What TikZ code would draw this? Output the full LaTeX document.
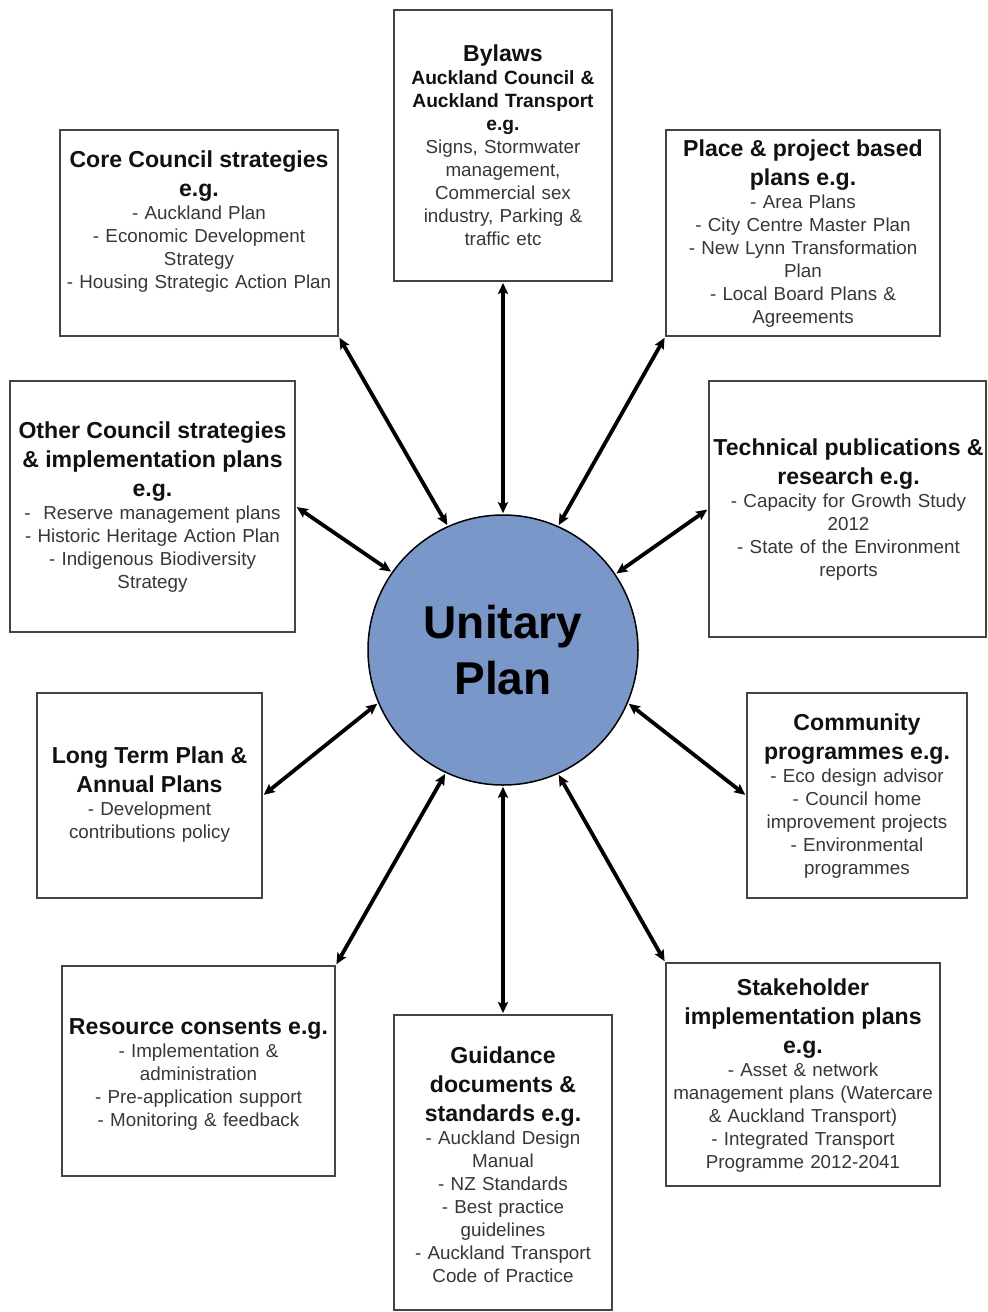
\documentclass[tikz,border=0pt]{standalone}
\usepackage{fontspec}
\setmainfont{Liberation Sans}
\usetikzlibrary{arrows.meta}

\definecolor{headc}{RGB}{17,17,17}
\definecolor{bodyc}{RGB}{55,55,55}
\definecolor{framec}{RGB}{68,68,68}
\definecolor{planfill}{RGB}{122,151,202}

% type sizes: main heading, sub heading, body
\newcommand\hdA{\fontsize{23.1}{29}\selectfont\bfseries\color{headc}}
\newcommand\hdB{\fontsize{19.2}{23}\selectfont\bfseries\color{headc}}
\newcommand\bd{\fontsize{18.8}{23}\selectfont\mdseries\color{bodyc}}

\tikzset{
  box/.style={draw=framec, line width=1.8pt, fill=white, rectangle, inner sep=0pt},
  txt/.style={inner sep=0pt, align=center, text width=320pt,
              font=\fontsize{18.8}{23}\selectfont},
  link/.style={line width=3.8pt, black,
               {Stealth[length=11pt,width=10pt,inset=2pt]}-{Stealth[length=11pt,width=10pt,inset=2pt]},
               shorten <=1pt, shorten >=1pt}
}

\begin{document}
\begin{tikzpicture}[x=1pt,y=-1pt]
\useasboundingbox (0,0) rectangle (988,1312);

% central circle
\node[circle, draw=black, line width=1.5pt, fill=planfill, minimum size=270pt,
      inner sep=0pt, align=center, font=\fontsize{46}{56}\selectfont\bfseries]
  (plan) at (503,650) {Unitary\\Plan};

% surrounding boxes
\node[box, minimum width=218pt, minimum height=271pt] (bylaws) at (503,145.5) {};
\node[txt] (bylawsText) at (503,145.5)
  {{\hdA Bylaws\par}{\hdB Auckland Council \&\\Auckland Transport\\e.g.\par}\bd
   Signs, Stormwater\\management,\\Commercial sex\\industry, Parking \&\\traffic etc\par};

\node[box, minimum width=278pt, minimum height=206pt] (core) at (199,233) {};
\node[txt] (coreText) at (199,222)
  {{\hdA Core Council strategies\\e.g.\par}\bd
   - Auckland Plan\\- Economic Development\\Strategy\\- Housing Strategic Action Plan\par};

\node[box, minimum width=274pt, minimum height=206pt] (place) at (803,233) {};
\node[txt] (placeText) at (803,234)
  {{\hdA Place \& project based\\plans e.g.\par}\bd
   - Area Plans\\- City Centre Master Plan\\- New Lynn Transformation\\Plan\\- Local Board Plans \&\\Agreements\par};

\node[box, minimum width=285pt, minimum height=251pt] (other) at (152.5,506.5) {};
\node[txt] (otherText) at (152.5,507.5)
  {{\hdA Other Council strategies\\\& implementation plans\\e.g.\par}\bd
   -~ Reserve management plans\\- Historic Heritage Action Plan\\- Indigenous Biodiversity\\Strategy\par};

\node[box, minimum width=277pt, minimum height=256pt] (tech) at (847.5,509) {};
\node[txt] (techText) at (848.5,510)
  {{\hdA Technical publications \&\\research e.g.\par}\bd
   - Capacity for Growth Study\\2012\\- State of the Environment\\reports\par};

\node[box, minimum width=225pt, minimum height=205pt] (ltp) at (149.5,795.5) {};
\node[txt] (ltpText) at (149.5,795)
  {{\hdA Long Term Plan \&\\Annual Plans\par}\bd
   - Development\\contributions policy\par};

\node[box, minimum width=220pt, minimum height=205pt] (community) at (857,795.5) {};
\node[txt] (communityText) at (857,796.5)
  {{\hdA Community\\programmes e.g.\par}\bd
   - Eco design advisor\\- Council home\\improvement projects\\- Environmental\\programmes\par};

\node[box, minimum width=273pt, minimum height=210pt] (consents) at (198.5,1071) {};
\node[txt] (consentsText) at (198.5,1074.5)
  {{\hdA Resource consents e.g.\par}\bd
   - Implementation \&\\administration\\- Pre-application support\\- Monitoring \& feedback\par};

\node[box, minimum width=218pt, minimum height=295pt] (guidance) at (503,1162.5) {};
\node[txt] (guidanceText) at (503,1165)
  {{\hdA Guidance\\documents \&\\standards e.g.\par}\bd
   - Auckland Design\\Manual\\- NZ Standards\\- Best practice\\guidelines\\- Auckland Transport\\Code of Practice\par};

\node[box, minimum width=274pt, minimum height=223pt] (stake) at (803,1074.5) {};
\node[txt] (stakeText) at (803,1075.5)
  {{\hdA Stakeholder\\implementation plans\\e.g.\par}\bd
   - Asset \& network\\management plans (Watercare\\\& Auckland Transport)\\- Integrated Transport\\Programme 2012-2041\par};

% two-way links between the plan and each group
\draw[link] (bylaws.south)        -- (plan.90);
\draw[link] (core.south east)     -- (plan.114);
\draw[link] (place.south west)    -- (plan.66);
\draw[link] (other.east)          -- (plan.145.5);
\draw[link] (tech.west)           -- (plan.34.5);
\draw[link] (ltp.east)            -- (plan.203.5);
\draw[link] (community.west)      -- (plan.337);
\draw[link] (consents.north east) -- (plan.245.5);
\draw[link] (guidance.north)      -- (plan.270);
\draw[link] (stake.north west)    -- (plan.294);
\end{tikzpicture}
\end{document}
